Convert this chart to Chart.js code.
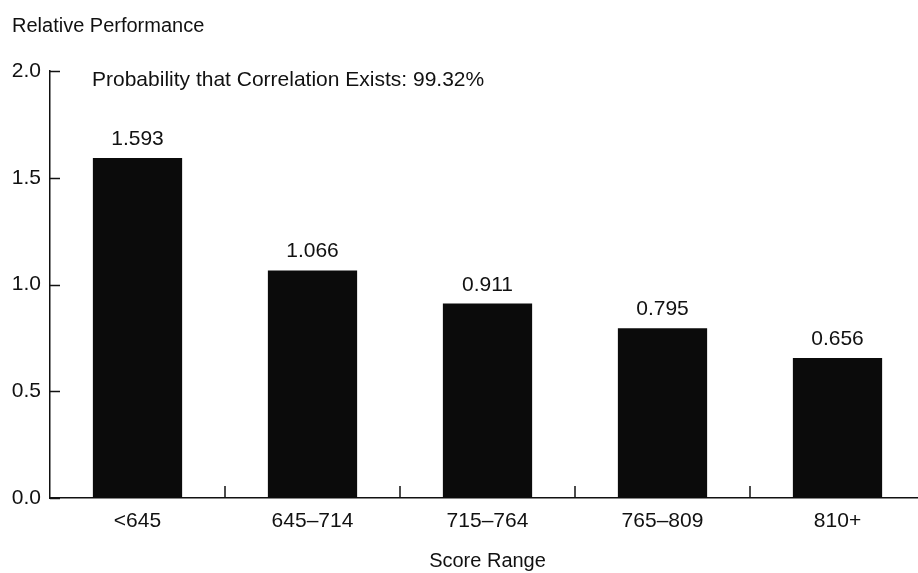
<!DOCTYPE html>
<html>
<head>
<meta charset="utf-8">
<script src="https://cdn.jsdelivr.net/npm/chart.js@4.4.1/dist/chart.umd.min.js"></script>
<style>
  html, body { margin: 0; padding: 0; background: #fff; overflow: hidden; }
  #wrap { width: 930px; height: 573px; position: relative; }
</style>
</head>
<body>
<div id="wrap"><canvas id="perfChart" width="930" height="573"></canvas></div>
<script>
// data
var scoreRanges = ['<645', '645\u2013714', '715\u2013764', '765\u2013809', '810+'];
var relPerformance = [1.593, 1.066, 0.911, 0.795, 0.656];
var valueLabels = ['1.593', '1.066', '0.911', '0.795', '0.656'];
var yTicks = [0, 0.5, 1.0, 1.5, 2.0];

var fontFam = '"Liberation Sans", Arial, Helvetica, sans-serif';
var ink = '#111';

// ticks inside the axes, value labels, text
var decorPlugin = {
	id: 'decor',
	afterDraw: function(chart){
		var ctx = chart.ctx;
		var xs = chart.scales.x, ys = chart.scales.y;
		var area = chart.chartArea;
		ctx.save();
		ctx.strokeStyle = ink;
		ctx.lineWidth = 1.5;
		// y ticks pointing right
		yTicks.forEach(function(v){
			var y = Math.round(ys.getPixelForValue(v)) + 0.5;
			ctx.beginPath();
			ctx.moveTo(area.left, y);
			ctx.lineTo(area.left + 10, y);
			ctx.stroke();
		});
		// category separators on x axis
		for (var i = 0; i < scoreRanges.length - 1; i++) {
			var x = (xs.getPixelForValue(i) + xs.getPixelForValue(i + 1)) / 2;
			ctx.beginPath();
			ctx.moveTo(x, area.bottom);
			ctx.lineTo(x, area.bottom - 12);
			ctx.stroke();
		}
		ctx.fillStyle = ink;
		ctx.font = '21px ' + fontFam;
		ctx.textAlign = 'center';
		ctx.textBaseline = 'alphabetic';
		var meta = chart.getDatasetMeta(0);
		meta.data.forEach(function(bar, idx){
			ctx.fillText(valueLabels[idx], bar.x, bar.y - 13);
		});
		ctx.textAlign = 'left';
		ctx.fillText('Probability that Correlation Exists: 99.32%', 92, 86);
		ctx.font = '20px ' + fontFam;
		ctx.fillText('Relative Performance', 12, 32);
		ctx.restore();
	}
};

var ctx = document.getElementById('perfChart').getContext('2d');
var myChart = new Chart(ctx, {
	type: 'bar',
	data: {
		labels: scoreRanges,
		datasets: [{
			data: relPerformance,
			backgroundColor: '#0b0b0b',
			borderWidth: 0,
			barPercentage: 0.51,
			categoryPercentage: 1.0
		}]
	},
	options: {
		responsive: false,
		animation: false,
		devicePixelRatio: 1,
		layout: { padding: { top: 71, right: 5, left: 0, bottom: 0 } },
		plugins: {
			legend: { display: false },
			tooltip: { enabled: false }
		},
		scales: {
			x: {
				grid: { display: false, drawTicks: false },
				border: { display: true, color: ink, width: 1.5 },
				ticks: { color: ink, font: { family: fontFam, size: 21 }, padding: 11, maxRotation: 0 },
				title: { display: true, text: 'Score Range', color: ink, font: { family: fontFam, size: 20 }, padding: { top: 13, bottom: 0 } },
				afterFit: function(scale){ scale.height = 75; }
			},
			y: {
				min: 0, max: 2,
				grid: { display: false, drawTicks: false },
				border: { display: true, color: ink, width: 1.5 },
				ticks: {
					stepSize: 0.5,
					color: ink,
					font: { family: fontFam, size: 21 },
					padding: 9,
					callback: function(v){ return Number(v).toFixed(1); }
				},
				afterFit: function(scale){ scale.width = 50; }
			}
		}
	},
	plugins: [decorPlugin]
});
</script>
</body>
</html>
